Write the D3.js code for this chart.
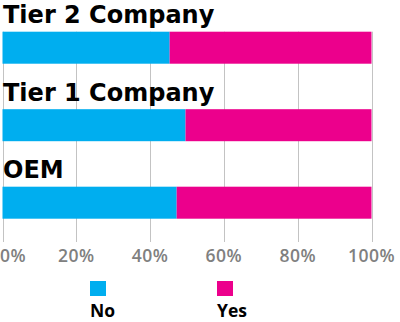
<!DOCTYPE html>
<html>
<head>
<meta charset="utf-8">
<script src="https://cdn.jsdelivr.net/npm/d3@7"></script>
<style>
  html, body { margin: 0; padding: 0; background: #fff; }
  svg { display: block; }
</style>
</head>
<body>
<svg id="chart" width="400" height="322"></svg>
<script>
// Share of respondents answering No / Yes, per company type (percent)
const categories = ["Tier 2 Company", "Tier 1 Company", "OEM"];
const seriesNames = ["No", "Yes"];
const noValues = [45.3, 49.6, 47.2];
const yesValues = [54.7, 50.4, 52.8];
const tickValues = [0, 20, 40, 60, 80, 100];
const tickLabels = ["0%", "20%", "40%", "60%", "80%", "100%"];

const colors = { No: "#00aeef", Yes: "#ec008c" };

const W = 400, H = 322;
const svg = d3.select("#chart");

const x = d3.scaleLinear().domain([0, 100]).range([2.5, 371.5]);
const y = d3.scaleBand()
  .domain(categories)
  .range([31.7, 218.7])
  .paddingInner(0.587)
  .paddingOuter(0)
  .align(0);

const rows = categories.map((c, i) => ({ cat: c, No: noValues[i], Yes: yesValues[i] }));
const stacked = d3.stack().keys(seriesNames)(rows);

// vertical gridlines
svg.append("g")
  .selectAll("line")
  .data(tickValues)
  .join("line")
  .attr("x1", d => Math.round(x(d)) + 0.5)
  .attr("x2", d => Math.round(x(d)) + 0.5)
  .attr("y1", y(categories[0]))
  .attr("y2", 242)
  .attr("stroke", "#c3c3c3")
  .attr("stroke-width", 1);

// stacked bars
svg.append("g")
  .selectAll("g")
  .data(stacked)
  .join("g")
  .attr("fill", s => colors[s.key])
  .selectAll("rect")
  .data(s => s)
  .join("rect")
  .attr("x", d => x(d[0]))
  .attr("width", d => x(d[1]) - x(d[0]))
  .attr("y", d => y(d.data.cat))
  .attr("height", y.bandwidth());

// category titles above each bar
svg.append("g")
  .selectAll("text")
  .data(categories)
  .join("text")
  .attr("x", 3)
  .attr("y", d => y(d) - 8.5)
  .attr("font-family", "DejaVu Sans")
  .attr("font-weight", "bold")
  .attr("font-size", 24)
  .attr("fill", "#000")
  .text(d => d);

// axis tick labels, kept inside the canvas at both ends
const tickG = svg.append("g");
tickG.selectAll("text")
  .data(tickValues)
  .join("text")
  .attr("y", 262)
  .attr("font-family", "Open Sans")
  .attr("font-size", 17.5)
  .attr("font-weight", 600)
  .attr("letter-spacing", 0.5)
  .attr("fill", "#808080")
  .text((d, i) => tickLabels[i])
  .each(function(d) {
    const w = this.getComputedTextLength();
    const left = Math.max(0, Math.min(W - 2 - w, x(d) - w / 2));
    d3.select(this).attr("x", left);
  });

// legend
const legendX = d3.scaleOrdinal().domain(seriesNames).range([90, 217]);
const leg = svg.append("g")
  .selectAll("g")
  .data(seriesNames)
  .join("g")
  .attr("transform", d => `translate(${legendX(d)},0)`);
leg.append("rect")
  .attr("x", 0).attr("y", 281)
  .attr("width", 16).attr("height", 15)
  .attr("fill", d => colors[d]);
leg.append("text")
  .attr("x", 0).attr("y", 316.5)
  .attr("font-family", "Open Sans")
  .attr("font-weight", "bold")
  .attr("font-size", 17.5)
  .attr("fill", "#000")
  .text(d => d);
</script>
</body>
</html>
